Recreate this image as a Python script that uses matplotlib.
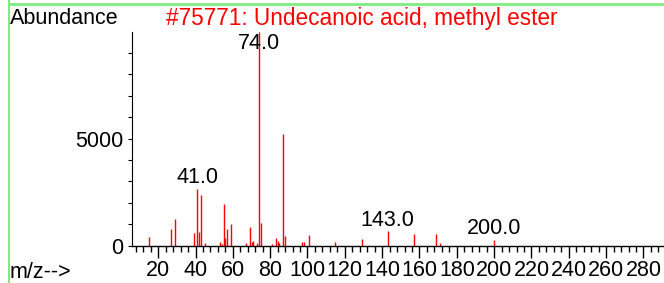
import matplotlib.pyplot as plt
from matplotlib.lines import Line2D
from matplotlib.ticker import MultipleLocator

plt.rcParams['font.family'] = ['Liberation Sans', 'DejaVu Sans']

# spectrum peaks (m/z, abundance)
mz = [15, 27, 29, 39, 41, 42, 43, 45, 53, 54, 55, 56, 57, 59, 67, 69, 70,
      71, 73, 74, 75, 81, 83, 84, 85, 87, 88, 97, 98, 101, 115, 129, 143,
      157, 169, 171, 200]
abundance = [390, 800, 1240, 590, 2640, 620, 2370, 120, 150, 100, 1940, 360,
             775, 1000, 120, 870, 150, 220, 120, 9999, 1070, 80, 360, 230,
             140, 5230, 465, 190, 170, 500, 170, 310, 670, 530, 560, 110, 250]
labelled = [41, 74, 143, 200]
title = "#75771: Undecanoic acid, methyl ester"

FS = 15.5

fig = plt.figure(figsize=(6.64, 2.83), dpi=100)
ax = fig.add_axes([0.1983, 0.1318, 0.8017, 0.7562])

ax.vlines(mz, 0, abundance, color='red', lw=1.0)
ymax = max(abundance)
for m in labelled:
    h = abundance[mz.index(m)]
    ax.text(m, min(h + 40, 0.895 * ymax), f"{m:.1f}", ha='center',
            va='bottom', fontsize=FS)

ax.set_xlim(5.8, 291)
ax.set_ylim(0, ymax)
ax.xaxis.set_major_locator(MultipleLocator(20))
ax.xaxis.set_minor_locator(MultipleLocator(4))
ax.yaxis.set_major_locator(MultipleLocator(5000))
ax.yaxis.set_minor_locator(MultipleLocator(1000))
ax.tick_params(axis='x', which='major', length=8.6, width=1, pad=1.5, labelsize=FS)
ax.tick_params(axis='x', which='minor', length=4.3, width=1)
ax.tick_params(axis='y', which='both', length=3, width=0.8, pad=3, labelsize=FS)
for s in ['top', 'right']:
    ax.spines[s].set_visible(False)
ax.spines['left'].set_linewidth(0.8)
ax.spines['bottom'].set_linewidth(1)
ax.patch.set_visible(False)

fig.text(10 / 664, 1 - 18 / 283, "Abundance", ha='left', va='center', fontsize=FS)
fig.text(166 / 664, 1 - 19 / 283, title, ha='left', va='center',
         fontsize=16.3, color='red')
fig.text(10 / 664, 1 - 273 / 283, "m/z-->", ha='left', va='center', fontsize=FS)

green = '#80ec80'
fig.add_artist(Line2D([9 / 664, 1], [1 - 4 / 283, 1 - 4 / 283], color=green, lw=2))
fig.add_artist(Line2D([9 / 664, 9 / 664], [0, 1], color=green, lw=1.5))

fig.savefig("out.png", dpi=100)
